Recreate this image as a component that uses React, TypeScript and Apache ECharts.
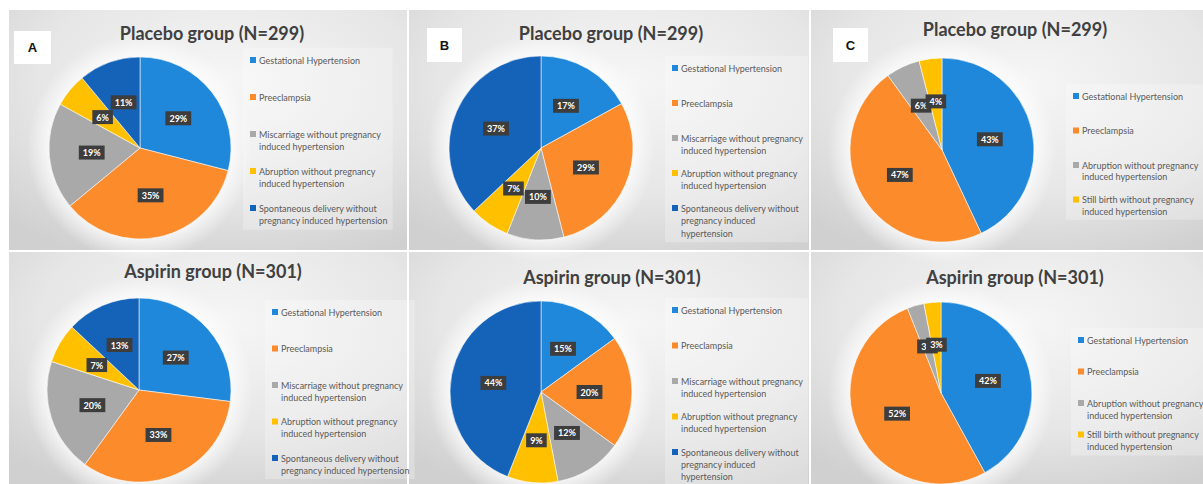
import React, { useEffect, useRef } from "react";
import * as echarts from "echarts";

const FONT = 'Lato, "Open Sans", "Liberation Sans", sans-serif';

// ---- Data ----
const categoriesAB = [
  "Gestational Hypertension",
  "Preeclampsia",
  "Miscarriage without pregnancy induced hypertension",
  "Abruption without pregnancy induced hypertension",
  "Spontaneous delivery without pregnancy induced hypertension",
];
const categoriesC = [
  "Gestational Hypertension",
  "Preeclampsia",
  "Abruption without pregnancy induced hypertension",
  "Still birth without pregnancy induced hypertension",
];

const placeboA = [29, 35, 19, 6, 11];
const aspirinA = [27, 33, 20, 7, 13];
const placeboB = [17, 29, 10, 7, 37];
const aspirinB = [15, 20, 12, 9, 44];
const placeboC = [43, 47, 6, 4];
const aspirinC = [42, 52, 3, 3];

const titlePlacebo = "Placebo group (N=299)";
const titleAspirin = "Aspirin group (N=301)";

// legend wrapping (text lines)
const linesA = [
  ["Gestational Hypertension"],
  ["Preeclampsia"],
  ["Miscarriage without pregnancy", "induced hypertension"],
  ["Abruption without pregnancy", "induced hypertension"],
  ["Spontaneous delivery without", "pregnancy induced hypertension"],
];
const linesB = [
  ["Gestational Hypertension"],
  ["Preeclampsia"],
  ["Miscarriage without pregnancy", "induced hypertension"],
  ["Abruption without pregnancy", "induced hypertension"],
  ["Spontaneous delivery without", "pregnancy induced", "hypertension"],
];
const linesC = [
  ["Gestational Hypertension"],
  ["Preeclampsia"],
  ["Abruption without pregnancy", "induced hypertension"],
  ["Still birth without pregnancy", "induced hypertension"],
];

const colorsAB = ["#2088da", "#fb8b2b", "#a9a9a9", "#ffc000", "#1563b9"];
const colorsC = ["#2088da", "#fb8b2b", "#a9a9a9", "#ffc000"];

// ---- Layout ----
type Panel = {
  letter?: string;
  letterBox?: number[];
  rect: number[];
  title: string;
  titlePos: number[];
  center: number[];
  r: number;
  cats: string[];
  values: number[];
  colors: string[];
  lines: string[][];
  legendX: number;
  legendY: number; // center of first line
  lh: number;
  spacing: number;
};

const panels: Panel[] = [
  {
    letter: "A", letterBox: [14, 31, 37, 33], rect: [9, 10, 398, 240],
    title: titlePlacebo, titlePos: [212, 33], center: [140, 148], r: 91,
    cats: categoriesAB, values: placeboA, colors: colorsAB, lines: linesA,
    legendX: 250, legendY: 60, lh: 12.5, spacing: 37,
  },
  {
    letter: "B", letterBox: [427, 28, 35, 34], rect: [409, 10, 400, 240],
    title: titlePlacebo, titlePos: [611, 33], center: [541, 148], r: 92,
    cats: categoriesAB, values: placeboB, colors: colorsAB, lines: linesB,
    legendX: 672, legendY: 68, lh: 12.5, spacing: 35,
  },
  {
    letter: "C", letterBox: [833, 28, 35, 34], rect: [811, 10, 392, 240],
    title: titlePlacebo, titlePos: [1015, 29], center: [942, 150], r: 92,
    cats: categoriesC, values: placeboC, colors: colorsC, lines: linesC,
    legendX: 1073, legendY: 96, lh: 11.5, spacing: 34.5,
  },
  {
    rect: [9, 252, 398, 232],
    title: titleAspirin, titlePos: [213, 271], center: [139, 390], r: 92,
    cats: categoriesAB, values: aspirinA, colors: colorsAB, lines: linesA,
    legendX: 272, legendY: 312, lh: 12, spacing: 36.5,
  },
  {
    rect: [409, 252, 400, 232],
    title: titleAspirin, titlePos: [612, 277], center: [541, 392], r: 91,
    cats: categoriesAB, values: aspirinB, colors: colorsAB, lines: linesB,
    legendX: 672, legendY: 310, lh: 12, spacing: 35.5,
  },
  {
    rect: [811, 252, 392, 232],
    title: titleAspirin, titlePos: [1015, 277], center: [941, 393], r: 91,
    cats: categoriesC, values: aspirinC, colors: colorsC, lines: linesC,
    legendX: 1078, legendY: 340, lh: 12, spacing: 31.5,
  },
];

const PAD = [6, 5, 3, 2]; // legend padding top,right,bottom,left

function buildOption() {
  const graphics: any[] = [];
  panels.forEach((p) => {
    const [x, y, w, h] = p.rect;
    graphics.push({
      type: "rect",
      z: -10,
      shape: { x, y, width: w, height: h },
      style: {
        fill: new echarts.graphic.RadialGradient(0.55, 0.3, 0.8, [
          { offset: 0, color: "#f6f6f6" },
          { offset: 0.6, color: "#e6e6e6" },
          { offset: 1, color: "#d0d0d0" },
        ]),
      },
    });
    graphics.push({
      type: "circle",
      z: -9,
      shape: { cx: p.center[0], cy: p.center[1], r: p.r + 22 },
      style: {
        fill: new echarts.graphic.RadialGradient(0.5, 0.5, 0.5, [
          { offset: 0, color: "rgba(255,255,255,0.9)" },
          { offset: 0.78, color: "rgba(255,255,255,0.8)" },
          { offset: 1, color: "rgba(255,255,255,0)" },
        ]),
      },
    });
    graphics.push({
      type: "text",
      z: 5,
      x: p.titlePos[0],
      y: p.titlePos[1],
      style: {
        text: p.title,
        fill: "#404040",
        fontSize: 18,
        fontWeight: "bold",
        fontFamily: FONT,
        align: "center",
        verticalAlign: "middle",
      },
    });
    if (p.letter && p.letterBox) {
      const [lx, ly, lw, lhh] = p.letterBox;
      graphics.push({
        type: "rect",
        z: 5,
        shape: { x: lx, y: ly, width: lw, height: lhh },
        style: { fill: "#ffffff" },
      });
      graphics.push({
        type: "text",
        z: 6,
        x: lx + lw / 2,
        y: ly + lhh / 2,
        style: {
          text: p.letter,
          fill: "#111111",
          fontSize: 13,
          fontWeight: "bold",
          fontFamily: '"Liberation Sans", Arial, sans-serif',
          align: "center",
          verticalAlign: "middle",
        },
      });
    }
  });

  const legends = panels.map((p) => {
    const rich: any = {
      t: { fontSize: 9, color: "#5a5a5a", fontFamily: FONT, lineHeight: p.lh },
      g: { width: 3, lineHeight: p.lh },
      ind: { width: 9, lineHeight: p.lh },
    };
    p.colors.forEach((c, i) => {
      rich["s" + i] = { width: 6, height: 6, backgroundColor: c, lineHeight: p.lh };
    });
    return {
      type: "plain",
      orient: "vertical",
      left: p.legendX - 5 - PAD[3],
      top: p.legendY - p.lh / 2 - PAD[0],
      height: 600,
      itemGap: p.spacing - 2 * p.lh,
      itemWidth: 0,
      itemHeight: 4,
      icon: "none",
      selectedMode: false,
      padding: PAD,
      backgroundColor: "rgba(255,255,255,0.25)",
      data: p.cats,
      formatter: (name: string) => {
        const idx = p.cats.indexOf(name);
        const ls = p.lines[idx];
        let s = `{s${idx}| }{g| }{t|${ls[0]}}`;
        if (ls.length === 1) s += `\n{t| }`;
        for (let k = 1; k < ls.length; k++) s += `\n{ind| }{t|${ls[k]}}`;
        return s;
      },
      textStyle: { fontSize: 9, color: "#5a5a5a", fontFamily: FONT, lineHeight: p.lh, rich },
    };
  });

  const series = panels.map((p, k) => ({
    type: "pie",
    name: "pie" + k,
    center: p.center,
    radius: p.r,
    startAngle: 90,
    clockwise: true,
    avoidLabelOverlap: false,
    minShowLabelAngle: 0,
    labelLayout: { hideOverlap: false },
    silent: true,
    data: p.values.map((v, i) => ({
      name: p.cats[i],
      value: v,
      itemStyle: { color: p.colors[i] },
    })),
    itemStyle: { borderColor: "rgba(255,255,255,0.55)", borderWidth: 1 },
    label: {
      show: true,
      position: "inside",
      formatter: "{c}%",
      color: "#ffffff",
      fontSize: 9,
      fontWeight: "bold",
      fontFamily: FONT,
      backgroundColor: "#3d3d3d",
      padding: [3, 4, 2, 4],
      overflow: "none",
    },
    labelLine: { show: false },
    emphasis: { disabled: true },
  }));

  return {
    animation: false,
    backgroundColor: "#ffffff",
    graphic: { elements: graphics },
    legend: legends,
    series,
  };
}

export default function App() {
  const ref = useRef<HTMLDivElement>(null);
  useEffect(() => {
    if (!ref.current) return;
    const chart = echarts.init(ref.current, undefined, { renderer: "svg" });
    chart.setOption(buildOption() as any);
    return () => chart.dispose();
  }, []);
  return (
    <div
      ref={ref}
      style={{ position: "absolute", left: 0, top: 0, width: 1203, height: 484 }}
    />
  );
}
